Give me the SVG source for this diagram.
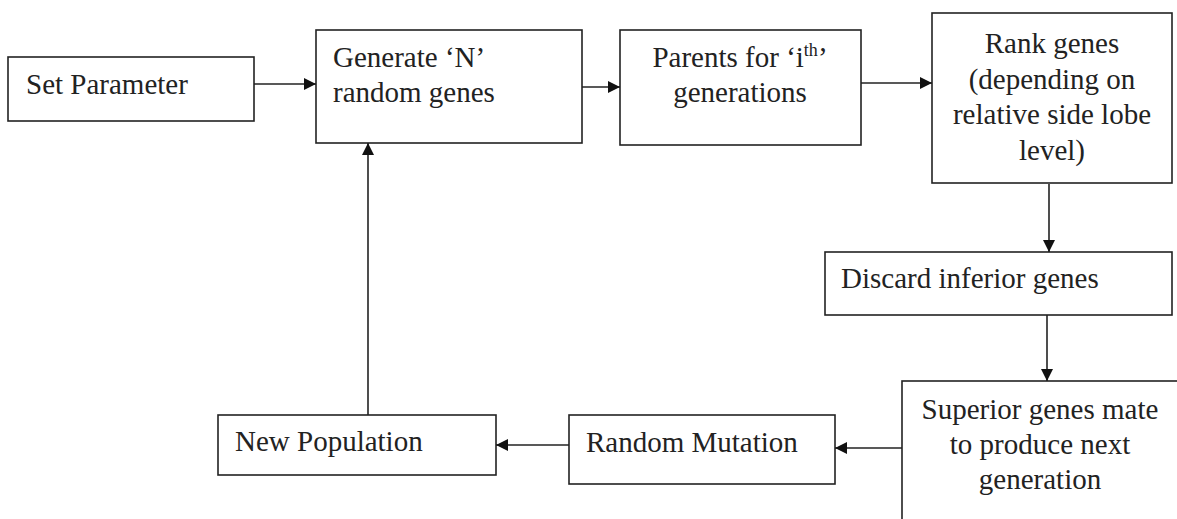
<svg xmlns="http://www.w3.org/2000/svg" width="1177" height="519" viewBox="0 0 1177 519">
<style>
.box{fill:#fff;stroke:#222;stroke-width:1.6}
.t{font-family:"Liberation Serif","Times New Roman",serif;font-size:29px;fill:#222}
.c{text-anchor:middle}
.conn line{stroke:#222;stroke-width:1.6;marker-end:url(#ah)}
</style>
<defs>
<marker id="ah" markerUnits="userSpaceOnUse" markerWidth="14" markerHeight="12" refX="12" refY="6" orient="auto">
<path d="M0,0 L12,6 L0,12 Z" fill="#111"/>
</marker>
</defs>
<rect width="1177" height="519" fill="#fff"/>
<g id="set-parameter">
<rect class="box" x="8" y="57" width="246" height="64"/>
<text class="t" x="26" y="94">Set Parameter</text>
</g>
<g id="generate">
<rect class="box" x="316" y="30" width="266" height="113"/>
<text class="t" x="333" y="67">Generate ‘N’</text>
<text class="t" x="333" y="102">random genes</text>
</g>
<g id="parents">
<rect class="box" x="620" y="30" width="241" height="115"/>
<text class="t c" x="740" y="67">Parents for ‘i<tspan font-size="18" dy="-11">th</tspan><tspan dy="11">’</tspan></text>
<text class="t c" x="740" y="102">generations</text>
</g>
<g id="rank">
<rect class="box" x="932" y="13" width="240" height="170"/>
<text class="t c" x="1052" y="53">Rank genes</text>
<text class="t c" x="1052" y="89">(depending on</text>
<text class="t c" x="1052" y="124">relative side lobe</text>
<text class="t c" x="1052" y="160">level)</text>
</g>
<g id="discard">
<rect class="box" x="825" y="252" width="347" height="63"/>
<text class="t" x="841" y="288">Discard inferior genes</text>
</g>
<g id="superior">
<rect class="box" x="902" y="381" width="300" height="160"/>
<text class="t c" x="1040" y="419">Superior genes mate</text>
<text class="t c" x="1040" y="454">to produce next</text>
<text class="t c" x="1040" y="489">generation</text>
</g>
<g id="random-mutation">
<rect class="box" x="569" y="415" width="266" height="69"/>
<text class="t" x="586" y="452">Random Mutation</text>
</g>
<g id="new-population">
<rect class="box" x="218" y="415" width="278" height="60"/>
<text class="t" x="235" y="451">New Population</text>
</g>
<g id="connectors" class="conn">
<line x1="254" y1="84" x2="316" y2="84"/>
<line x1="582" y1="87" x2="620" y2="87"/>
<line x1="861" y1="83" x2="932" y2="83"/>
<line x1="1049" y1="184" x2="1049" y2="252"/>
<line x1="1047" y1="315" x2="1047" y2="381"/>
<line x1="902" y1="448" x2="835" y2="448"/>
<line x1="569" y1="445" x2="496" y2="445"/>
<line x1="368" y1="415" x2="368" y2="143"/>
</g>
</svg>
